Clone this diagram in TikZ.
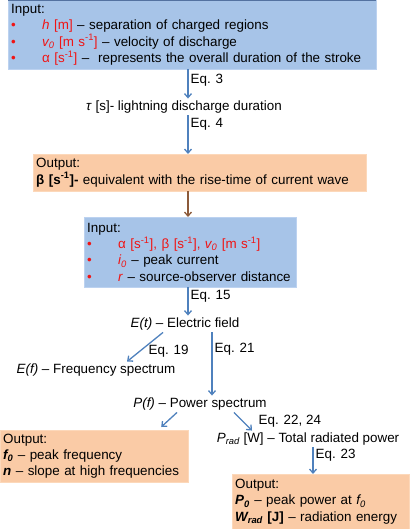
\documentclass[tikz,border=0pt]{standalone}
\usepackage{fontspec}
\setmainfont{Liberation Sans}
\usetikzlibrary{arrows.meta}

\definecolor{infill}{RGB}{167,196,232}
\definecolor{inborder}{RGB}{188,210,240}
\definecolor{intop}{RGB}{84,114,160}
\definecolor{outfill}{RGB}{250,203,166}
\definecolor{outborder}{RGB}{252,216,186}
\definecolor{arrblue}{RGB}{79,129,189}
\definecolor{arrbrown}{RGB}{140,90,58}
\definecolor{parred}{RGB}{240,20,20}

\newcommand{\bul}{\makebox[31pt][l]{\textcolor{parred}{\textbullet}}}
\newcommand{\sups}[1]{\textsuperscript{#1}}

\begin{document}
\begin{tikzpicture}[x=1pt,y=-1pt,font=\fontsize{13.4}{16.4}\selectfont,
	arr/.style={draw=arrblue,line width=1.3pt,-{Straight Barb[length=4pt,width=7pt]}},
	inbox/.style={draw=inborder,fill=infill,anchor=north west,align=left,inner xsep=3pt,inner ysep=1pt},
	outbox/.style={draw=outborder,fill=outfill,anchor=north west,align=left,inner xsep=3pt,inner ysep=1pt},
	plain/.style={inner sep=2pt},
	eq/.style={right,inner sep=2pt}]
		\useasboundingbox (0,0) rectangle (415,529);
		
		% input boxes
		\node[inbox,text width=362pt,minimum height=69pt] (in1) at (8,0) {Input:\\
			\bul\textcolor{parred}{\textit{h} [m]} -- separation of charged regions\\
			\bul\textcolor{parred}{\textit{v\textsubscript{0}} [m s\sups{-1}]} -- velocity of discharge\\
			\bul\textcolor{parred}{α [s\sups{-1}]} --\ \ represents the overall duration of the stroke};
		\draw[intop,line width=1.5pt] (in1.north west) -- (in1.north east);
		
		\node[plain] (tau) at (184,107) {\textit{τ} [s]- lightning discharge duration};
		
		\node[outbox,text width=327pt,minimum height=37pt] (out1) at (33,154) {Output:\\
			\textbf{β [s\sups{-1}]- }equivalent with the rise-time of current wave};
		
		\node[inbox,text width=206pt,minimum height=70pt] (in2) at (84,217) {Input:\\
			\bul\textcolor{parred}{α [s\sups{-1}], β [s\sups{-1}], \textit{v\textsubscript{0}} [m s\sups{-1}]}\\
			\bul\textcolor{parred}{\textit{i\textsubscript{0}}} -- peak current\\
			\bul\textcolor{parred}{\textit{r}} -- source-observer distance};
		
		% spectra
		\node[plain] (et) at (185,324) {\textit{E(t)} -- Electric field};
		\node[plain] (ef) at (96,370) {\textit{E(f)} -- Frequency spectrum};
		\node[plain] (pf) at (200,404) {\textit{P(f)} -- Power spectrum};
		\node[plain] (prad) at (308,439) {\textit{P\textsubscript{rad}} [W] -- Total radiated power};
		
		% outputs
		\node[outbox,text width=182pt,minimum height=52pt] (out2) at (0,430) {Output:\\
			\textbf{\textit{f\textsubscript{0}}} -- peak frequency\\
			\textbf{\textit{n}} -- slope at high frequencies};
		\node[outbox,text width=171pt,minimum height=55pt] (out3) at (232,474) {Output:\\
			\textbf{\textit{P\textsubscript{0}}} -- peak power at \textit{f\textsubscript{0}}\\
			\textbf{\textit{W\textsubscript{rad}} [J]} -- radiation energy};
		
		\coordinate (axis) at (188,0);
		\coordinate (axisb) at (313,0);
		
		\draw[arr] (in1.south -| axis) -- node[eq,pos=0.38] {Eq. 3} (tau.north -| axis);
		\draw[arr] (tau.south -| axis) -- node[eq,pos=0.22] {Eq. 4} (out1.north -| axis);
		\draw[arr,draw=arrbrown] (out1.south -| axis) -- (in2.north -| axis);
		\draw[arr] (in2.south -| axis) -- node[eq,pos=0.3] {Eq. 15} (et.north -| axis);
		\draw[arr] ([xshift=-22pt]et.south) -- node[anchor=west,inner sep=2pt,xshift=1pt,yshift=-4.5pt] {Eq. 19} ([xshift=31pt]ef.north);
		\draw[arr] ([xshift=27pt]et.south) -- node[eq,pos=0.27] {Eq. 21} ([xshift=12pt]pf.north);
		\draw[arr] ([xshift=-23pt]pf.south) -- ([xshift=67pt,yshift=3pt]out2.north);
		\draw[arr] ([xshift=34pt]pf.south) -- node[pos=1,anchor=south west,inner sep=2pt,xshift=4pt,yshift=1pt] {Eq. 22, 24} ([xshift=-56pt]prad.north);
		\draw[arr] (prad.south -| axisb) -- node[eq,pos=0.28] {Eq. 23} (out3.north -| axisb);
\end{tikzpicture}
\end{document}
